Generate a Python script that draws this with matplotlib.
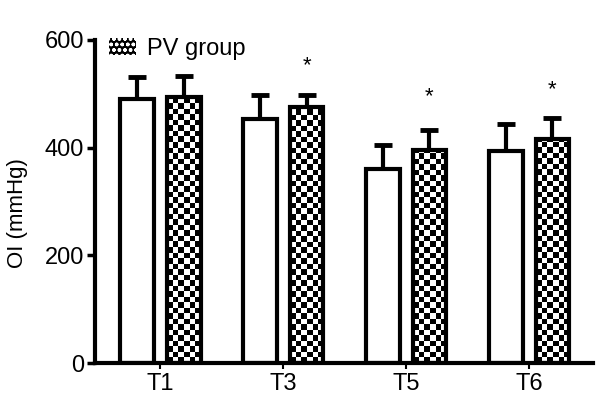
import numpy as np
import matplotlib
matplotlib.use('Agg')
import matplotlib.pyplot as plt
from matplotlib.patches import Patch

plt.rcParams['font.family'] = ['Liberation Sans', 'DejaVu Sans']

# values (mmHg)
groups = ['T1', 'T3', 'T5', 'T6']
ctrl_mean = [491, 453, 361, 394]
ctrl_sd = [41, 45, 44, 50]
pv_mean = [494, 476, 396, 416]
pv_sd = [39, 22, 37, 39]
star_y = [None, 553, 495, 508]   # * marks above PV bars

fig = plt.figure(figsize=(6.02, 4.07), dpi=100)
ax = fig.add_axes([0.158, 0.108, 0.827, 0.794])

x = np.arange(len(groups))
w = 0.275
off = 0.19
lw = 3.0

# error bars (upper only), drawn under the bars
ax.errorbar(x - off, ctrl_mean, yerr=[np.zeros(4), ctrl_sd], fmt='none',
            ecolor='black', elinewidth=3, capsize=6.5, capthick=3.5, zorder=1)
ax.errorbar(x + off, pv_mean, yerr=[np.zeros(4), pv_sd], fmt='none',
            ecolor='black', elinewidth=3, capsize=6.5, capthick=3.5, zorder=1)

ax.bar(x - off, ctrl_mean, w, facecolor='white', edgecolor='black',
       linewidth=lw, zorder=2)
pv_bars = ax.bar(x + off, pv_mean, w, facecolor='white', edgecolor='black',
                 linewidth=lw, zorder=3)

# checker fill clipped to each PV bar (cells about 5.5 px)
cell_y = 5.5 / 0.538
for b in pv_bars:
    x0, y0 = b.get_x(), b.get_y()
    bw, bh = b.get_width(), b.get_height()
    ncol = 6
    nrow = int(bh / cell_y) + 1
    ii, jj = np.indices((nrow, ncol))
    checker = ((ii + jj) % 2).astype(float)
    im = ax.imshow(checker, cmap='gray', extent=(x0, x0 + bw, y0, y0 + nrow * cell_y),
                   origin='lower', interpolation='nearest', aspect='auto', zorder=2.5)
    im.set_clip_path(b)
    b.set_facecolor('none')

for xi, sy in zip(x, star_y):
    if sy is not None:
        ax.text(xi + off, sy, '*', ha='center', va='center', fontsize=16, zorder=4)

ax.set_xlim(-0.53, 3.52)
ax.set_ylim(0, 600)
ax.set_yticks([0, 200, 400, 600])
ax.set_xticks(x)
ax.set_xticklabels(groups)
ax.set_ylabel('OI (mmHg)', fontsize=16)
ax.yaxis.set_label_coords(-0.135, 0.465)

for s in ['top', 'right']:
    ax.spines[s].set_visible(False)
for s in ['left', 'bottom']:
    ax.spines[s].set_linewidth(3)
ax.tick_params(axis='y', length=6, width=2.5, labelsize=17, pad=2)
ax.tick_params(axis='x', length=4.5, width=1.5, labelsize=17, pad=3)

handle = Patch(facecolor='black', edgecolor='white', hatch='ooo', linewidth=0)
ax.legend([handle], ['PV group'], loc='upper left', bbox_to_anchor=(0.0, 1.05),
          frameon=False, fontsize=17, handlelength=1.15, handleheight=0.7,
          handletextpad=0.45, borderaxespad=0.2)

fig.savefig('out.png', dpi=100)
